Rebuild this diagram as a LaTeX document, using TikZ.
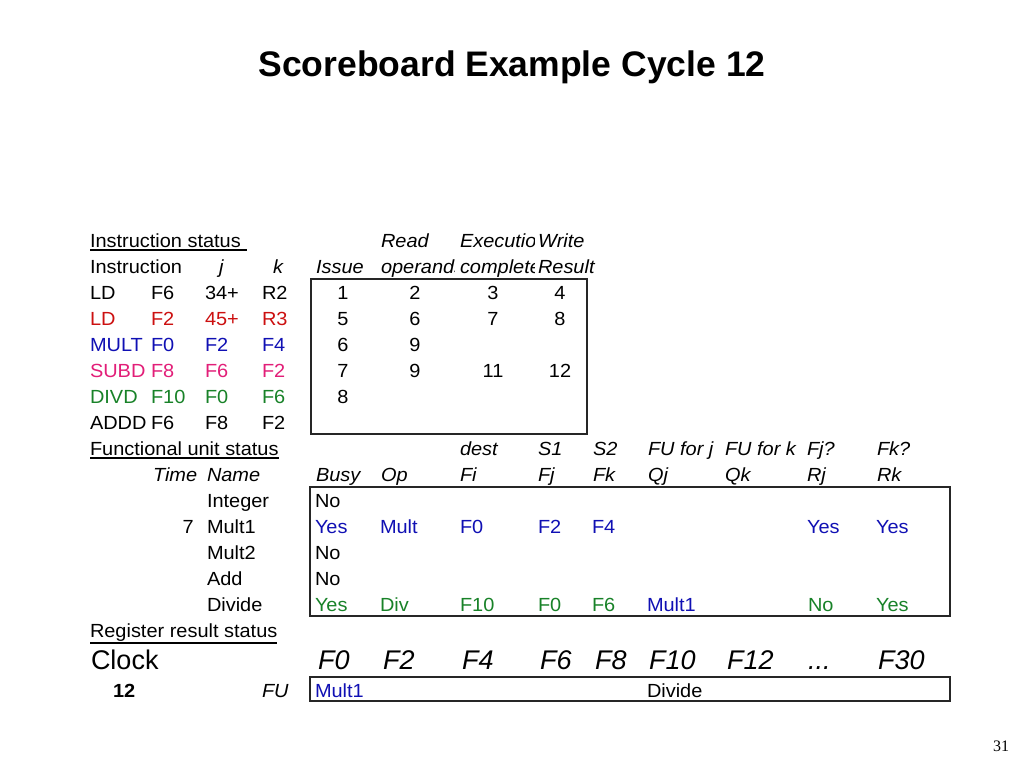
\documentclass[tikz,border=0pt]{standalone}
\usepackage{fontspec}
\setmainfont{Liberation Sans}
\newfontfamily\tabfont[FakeStretch=1.05]{Liberation Sans}
\newfontfamily\pgnumfont{Liberation Serif}
\newcommand\tsz{\tabfont\fontsize{19}{22}\selectfont}
\newcommand\tlg{\fontsize{27}{30}\selectfont}
\definecolor{cred}{RGB}{204,16,16}
\definecolor{cblue}{RGB}{16,16,180}
\definecolor{cpink}{RGB}{226,30,120}
\definecolor{cgreen}{RGB}{24,130,40}
\begin{document}
\begin{tikzpicture}[x=1pt,y=-1pt,
  txt/.style={anchor=base west,inner sep=0pt,outer sep=0pt,font=\tsz},
  itx/.style={txt,font=\tsz\itshape},
  num/.style={anchor=base,inner sep=0pt,outer sep=0pt,font=\tsz},
  bigt/.style={txt,font=\tlg},
  bigit/.style={txt,font=\tlg\itshape},
  tbox/.style={draw=black!85,line width=1.2pt},
  uline/.style={line width=1.1pt}]
\path[use as bounding box,fill=white] (0,0) rectangle (1024,768);

% title
\node[anchor=base,inner sep=0pt,font=\fontsize{35.5}{40}\selectfont\bfseries] (title) at (512,76) {Scoreboard Example Cycle 12};

% ---------- Instruction status ----------
\node[txt] (ishead) at (90,247) {Instruction status};
\draw[uline] ([yshift=-3pt]ishead.base west) -- ([yshift=-3pt,xshift=6pt]ishead.base east);
\node[itx] (hread) at (381,247) {Read};
\begin{scope}
\clip (455,230) rectangle (534,280);
\node[itx] (hexec) at (460,247) {\makebox[72pt][l]{Execution}};
\node[itx] (hcompl) at (460,273) {\makebox[72pt][l]{complete}};
\end{scope}
\begin{scope}
\clip (370,255) rectangle (454,280);
\node[itx] (hoper) at (381,273) {\makebox[71pt][l]{operands}};
\end{scope}
\node[itx] (hwrite) at (538,247) {Write};
\node[txt] (hinstr) at (90,273) {Instruction};
\node[itx] (hj) at (219,273) {j};
\node[itx] (hk) at (273,273) {k};
\node[itx] (hissue) at (316,273) {Issue};
\node[itx] (hresult) at (538,273) {Result};

\draw[tbox] (311,279) rectangle (587,434);

% rows
\node[txt] (a1) at (90,299) {LD};
\node[txt] (b1) at (151,299) {F6};
\node[txt] (c1) at (205,299) {34+};
\node[txt] (d1) at (262,299) {R2};
\node[num] (e1) at (343,299) {1};
\node[num] (f1) at (415,299) {2};
\node[num] (g1) at (493,299) {3};
\node[num] (h1) at (560,299) {4};

\begin{scope}[every node/.append style={text=cred}]
\node[txt] (a2) at (90,325) {LD};
\node[txt] (b2) at (151,325) {F2};
\node[txt] (c2) at (205,325) {45+};
\node[txt] (d2) at (262,325) {R3};
\end{scope}
\node[num] (e2) at (343,325) {5};
\node[num] (f2) at (415,325) {6};
\node[num] (g2) at (493,325) {7};
\node[num] (h2) at (560,325) {8};

\begin{scope}[every node/.append style={text=cblue}]
\node[txt] (a3) at (90,351) {MULT};
\node[txt] (b3) at (151,351) {F0};
\node[txt] (c3) at (205,351) {F2};
\node[txt] (d3) at (262,351) {F4};
\end{scope}
\node[num] (e3) at (343,351) {6};
\node[num] (f3) at (415,351) {9};

\begin{scope}[every node/.append style={text=cpink}]
\node[txt] (a4) at (90,377) {SUBD};
\node[txt] (b4) at (151,377) {F8};
\node[txt] (c4) at (205,377) {F6};
\node[txt] (d4) at (262,377) {F2};
\end{scope}
\node[num] (e4) at (343,377) {7};
\node[num] (f4) at (415,377) {9};
\node[num] (g4) at (493,377) {11};
\node[num] (h4) at (560,377) {12};

\begin{scope}[every node/.append style={text=cgreen}]
\node[txt] (a5) at (90,403) {DIVD};
\node[txt] (b5) at (151,403) {F10};
\node[txt] (c5) at (205,403) {F0};
\node[txt] (d5) at (262,403) {F6};
\end{scope}
\node[num] (e5) at (343,403) {8};

\node[txt] (a6) at (90,429) {ADDD};
\node[txt] (b6) at (151,429) {F6};
\node[txt] (c6) at (205,429) {F8};
\node[txt] (d6) at (262,429) {F2};

% ---------- Functional unit status ----------
\node[txt] (fuhead) at (90,455) {Functional unit status};
\draw[uline] ([yshift=-3pt]fuhead.base west) -- ([yshift=-3pt]fuhead.base east);
\node[itx] (hdest) at (460,455) {dest};
\node[itx] (hs1) at (538,455) {S1};
\node[itx] (hs2) at (593,455) {S2};
\node[itx] (hfuj) at (648,455) {FU for j};
\node[itx] (hfuk) at (725,455) {FU for k};
\node[itx] (hfjq) at (807,455) {Fj?};
\node[itx] (hfkq) at (877,455) {Fk?};

\node[itx] (htime) at (153,481) {Time};
\node[itx] (hname) at (207,481) {Name};
\node[itx] (hbusy) at (316,481) {Busy};
\node[itx] (hop) at (381,481) {Op};
\node[itx] (hfi) at (460,481) {Fi};
\node[itx] (hfj) at (538,481) {Fj};
\node[itx] (hfk) at (593,481) {Fk};
\node[itx] (hqj) at (648,481) {Qj};
\node[itx] (hqk) at (725,481) {Qk};
\node[itx] (hrj) at (807,481) {Rj};
\node[itx] (hrk) at (877,481) {Rk};

\draw[tbox] (310,487) rectangle (950,616);

\node[txt] (nint) at (207,507) {Integer};
\node[txt] (bint) at (315,507) {No};

\node[anchor=base east,inner sep=0pt,font=\tsz] (tm1) at (194,533) {7};
\node[txt] (nm1) at (207,533) {Mult1};
\begin{scope}[every node/.append style={text=cblue}]
\node[txt] (bm1) at (315,533) {Yes};
\node[txt] (om1) at (380,533) {Mult};
\node[txt] (fim1) at (460,533) {F0};
\node[txt] (fjm1) at (538,533) {F2};
\node[txt] (fkm1) at (592,533) {F4};
\node[txt] (rjm1) at (807,533) {Yes};
\node[txt] (rkm1) at (876,533) {Yes};
\end{scope}

\node[txt] (nm2) at (207,559) {Mult2};
\node[txt] (bm2) at (315,559) {No};
\node[txt] (nadd) at (207,585) {Add};
\node[txt] (badd) at (315,585) {No};

\node[txt] (ndiv) at (207,611) {Divide};
\begin{scope}[every node/.append style={text=cgreen}]
\node[txt] (bdiv) at (315,611) {Yes};
\node[txt] (odiv) at (380,611) {Div};
\node[txt] (fidiv) at (460,611) {F10};
\node[txt] (fjdiv) at (538,611) {F0};
\node[txt] (fkdiv) at (592,611) {F6};
\node[txt] (rjdiv) at (808,611) {No};
\node[txt] (rkdiv) at (876,611) {Yes};
\end{scope}
\node[txt,text=cblue] (qjdiv) at (647,611) {Mult1};

% ---------- Register result status ----------
\node[txt] (rrhead) at (90,637) {Register result status};
\draw[uline] ([yshift=-6pt]rrhead.base west) -- ([yshift=-6pt]rrhead.base east);

\node[bigt] (clock) at (91,669) {Clock};
\node[bigit] (rf0) at (318,669) {F0};
\node[bigit] (rf2) at (383,669) {F2};
\node[bigit] (rf4) at (462,669) {F4};
\node[bigit] (rf6) at (540,669) {F6};
\node[bigit] (rf8) at (595,669) {F8};
\node[bigit] (rf10) at (649,669) {F10};
\node[bigit] (rf12) at (727,669) {F12};
\node[bigit] (rdots) at (808,669) {...};
\node[bigit] (rf30) at (878,669) {F30};

\node[txt,font=\tsz\bfseries] (clk) at (113,697) {12};
\node[itx] (fulab) at (262,697) {FU};
\draw[tbox] (310,677) rectangle (950,701);
\node[txt,text=cblue] (rmult) at (315,697) {Mult1};
\node[txt] (rdiv) at (647,697) {Divide};

% page number
\node[anchor=base west,inner sep=0pt,font=\pgnumfont\fontsize{16}{18}\selectfont] (pg) at (993,751) {31};
\end{tikzpicture}
\end{document}
